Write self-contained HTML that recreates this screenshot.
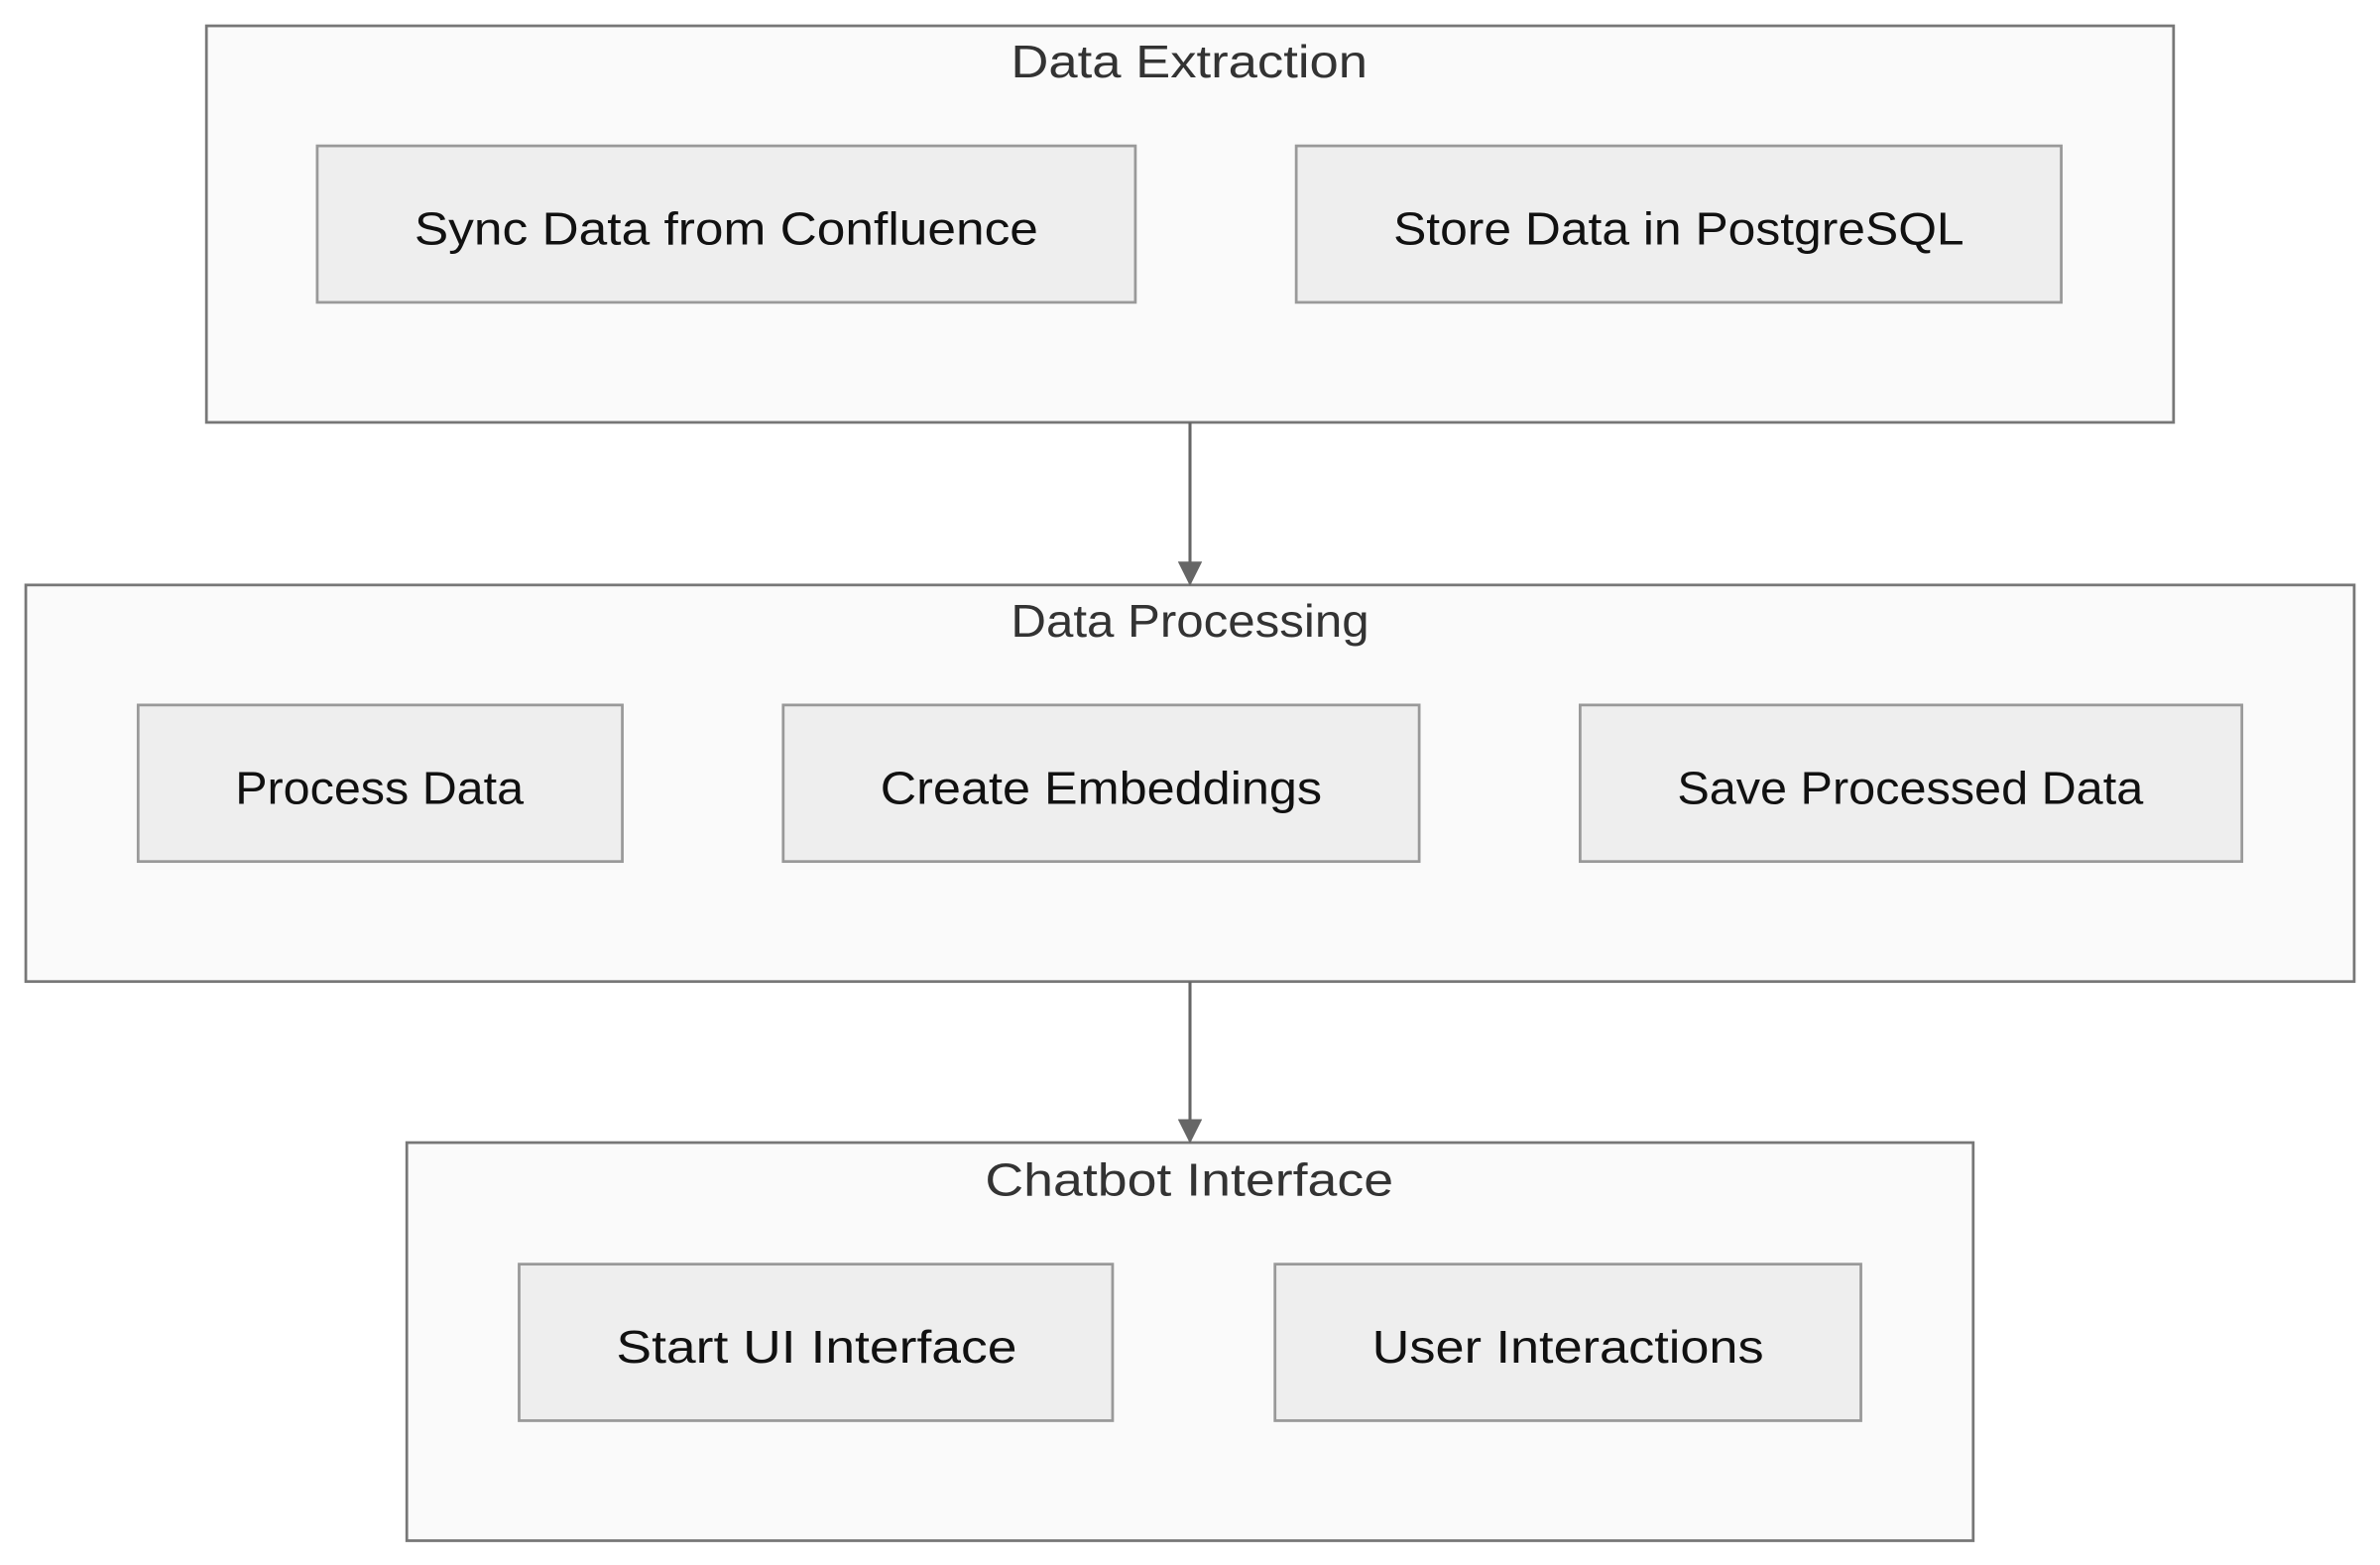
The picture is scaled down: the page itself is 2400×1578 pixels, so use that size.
<!DOCTYPE html>
<html><head><meta charset="utf-8"><style>
html,body{margin:0;padding:0;background:#fff;}
svg{display:block;}
text{font-family:"Liberation Sans","DejaVu Sans",sans-serif;}
</style></head><body>
<svg width="2400" height="1578" viewBox="0 0 1568 1030" preserveAspectRatio="none" xmlns="http://www.w3.org/2000/svg">
<defs><marker id="a" viewBox="0 0 10 10" refX="9" refY="5" markerWidth="8" markerHeight="8" orient="auto"><path d="M0,0L10,5L0,10z" fill="#666"/></marker></defs>
<g fill="#fafafa" stroke="#777" stroke-width="1.8">
<rect x="136" y="17" width="1296" height="261"/>
<rect x="17" y="385" width="1534" height="261"/>
<rect x="268" y="752" width="1032" height="262"/>
</g>
<g fill="#eeeeee" stroke="#999" stroke-width="1.8">
<rect x="209" y="96" width="539" height="103"/>
<rect x="854" y="96" width="504" height="103"/>
<rect x="91" y="464" width="319" height="103"/>
<rect x="516" y="464" width="419" height="103"/>
<rect x="1041" y="464" width="436" height="103"/>
<rect x="342" y="832" width="391" height="103"/>
<rect x="840" y="832" width="386" height="103"/>
</g>
<g stroke="#666" stroke-width="2" marker-end="url(#a)">
<line x1="784" y1="278" x2="784" y2="384"/>
<line x1="784" y1="646" x2="784" y2="751"/>
</g>
<g font-size="30" fill="#333" lengthAdjust="spacingAndGlyphs">
<text x="666" y="51" textLength="235" lengthAdjust="spacingAndGlyphs">Data Extraction</text>
<text x="666" y="419" textLength="236" lengthAdjust="spacingAndGlyphs">Data Processing</text>
<text x="649" y="787" textLength="269" lengthAdjust="spacingAndGlyphs">Chatbot Interface</text>
</g>
<g font-size="30" fill="#111">
<text x="273" y="161" textLength="411" lengthAdjust="spacingAndGlyphs">Sync Data from Confluence</text>
<text x="918" y="161" textLength="376" lengthAdjust="spacingAndGlyphs">Store Data in PostgreSQL</text>
<text x="155" y="529" textLength="190" lengthAdjust="spacingAndGlyphs">Process Data</text>
<text x="580" y="529" textLength="291" lengthAdjust="spacingAndGlyphs">Create Embeddings</text>
<text x="1105" y="529" textLength="307" lengthAdjust="spacingAndGlyphs">Save Processed Data</text>
<text x="406" y="897" textLength="264" lengthAdjust="spacingAndGlyphs">Start UI Interface</text>
<text x="904" y="897" textLength="258" lengthAdjust="spacingAndGlyphs">User Interactions</text>
</g>
</svg>
</body></html>
